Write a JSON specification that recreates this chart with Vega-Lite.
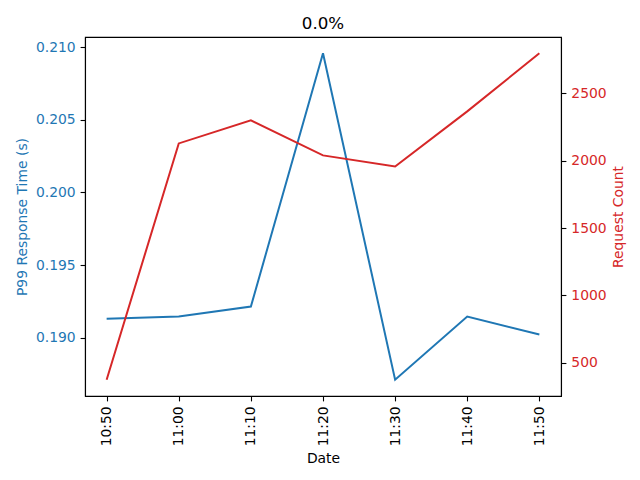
{
  "$schema": "https://vega.github.io/schema/vega-lite/v6.json",
  "width": 476,
  "height": 359,
  "autosize": "none",
  "padding": {"left": 85, "top": 37, "right": 79, "bottom": 84},
  "background": "white",
  "title": {"text": "0.0%", "fontSize": 16.7, "fontWeight": "normal", "font": "DejaVu Sans", "color": "black", "offset": 4},
  "data": {"values": [
    {"time": "10:50", "p99": 0.19131, "count": 374},
    {"time": "11:00", "p99": 0.19145, "count": 2128},
    {"time": "11:10", "p99": 0.19214, "count": 2299},
    {"time": "11:20", "p99": 0.20959, "count": 2039},
    {"time": "11:30", "p99": 0.18710, "count": 1957},
    {"time": "11:40", "p99": 0.19145, "count": 2366},
    {"time": "11:50", "p99": 0.19021, "count": 2797}
  ]},
  "encoding": {
    "x": {"field": "time", "type": "ordinal", "sort": null,
      "scale": {"type": "point", "padding": 0.3},
      "axis": {"labelAngle": -90, "title": "Date"}}
  },
  "layer": [
    {
      "mark": {"type": "line", "color": "#1f77b4", "strokeWidth": 2},
      "encoding": {
        "y": {"field": "p99", "type": "quantitative",
          "scale": {"domain": [0.18598, 0.21071], "nice": false, "zero": false},
          "axis": {"values": [0.190, 0.195, 0.200, 0.205, 0.210], "format": ".3f", "title": "P99 Response Time (s)", "labelColor": "#1f77b4", "titleColor": "#1f77b4", "orient": "left"}}
      }
    },
    {
      "mark": {"type": "line", "color": "#d62728", "strokeWidth": 2},
      "encoding": {
        "y": {"field": "count", "type": "quantitative",
          "scale": {"domain": [253, 2918], "nice": false, "zero": false},
          "axis": {"values": [500, 1000, 1500, 2000, 2500], "format": "d", "title": "Request Count", "labelColor": "#d62728", "titleColor": "#d62728", "orient": "right", "titleAngle": 270, "titleBaseline": "top"}}
      }
    }
  ],
  "resolve": {"scale": {"y": "independent"}},
  "config": {
    "font": "DejaVu Sans",
    "view": {"stroke": "black", "strokeWidth": 1.1},
    "axis": {
      "grid": false,
      "domainColor": "black",
      "domainWidth": 1.1,
      "tickColor": "black",
      "tickSize": 4.9,
      "tickWidth": 1.1,
      "labelFont": "DejaVu Sans",
      "labelFontSize": 13.9,
      "labelColor": "black",
      "labelPadding": 4.9,
      "titleFont": "DejaVu Sans",
      "titleFontSize": 13.9,
      "titleFontWeight": "normal",
      "titleColor": "black",
      "titlePadding": 5.6
    }
  }
}
